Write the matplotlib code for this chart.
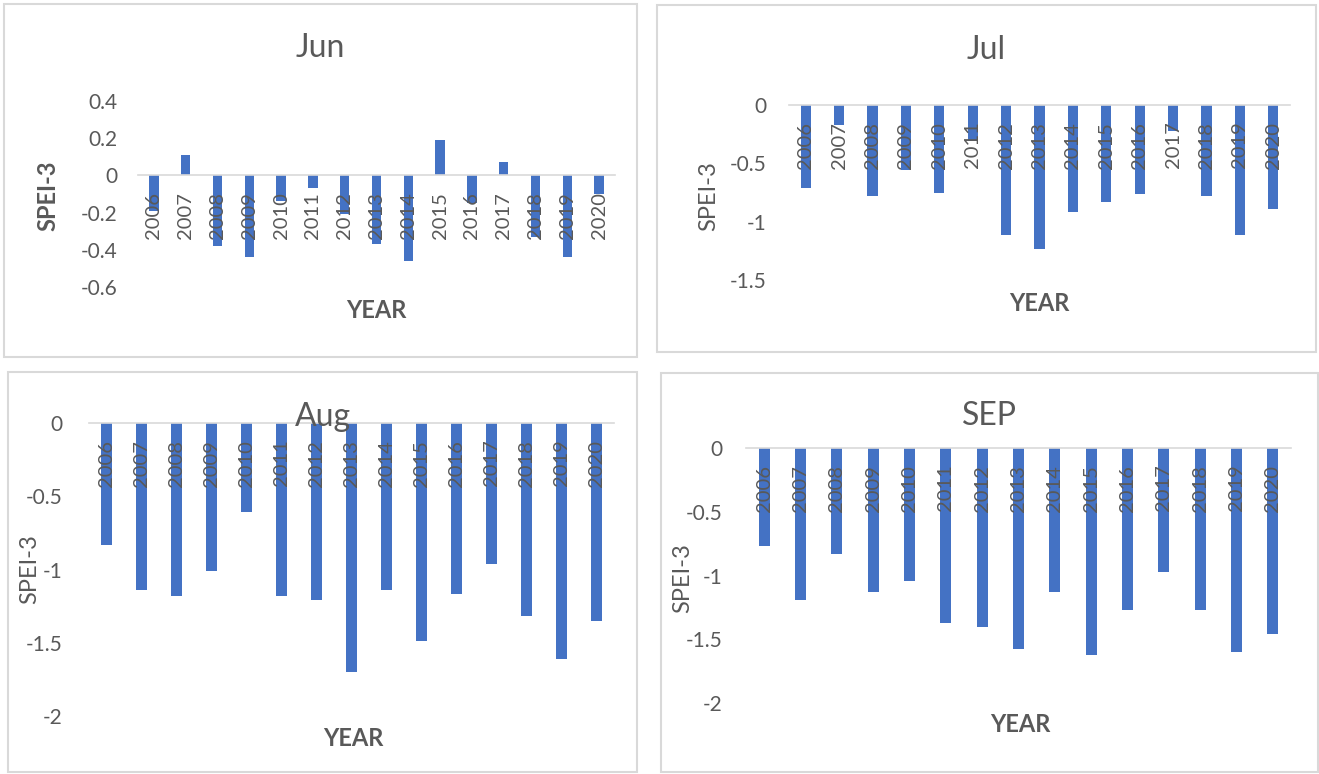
import numpy as np
import matplotlib
matplotlib.use("Agg")
import matplotlib.pyplot as plt
from matplotlib.patches import Rectangle

plt.rcParams['font.family'] = ['Lato', 'DejaVu Sans']

years = [str(y) for y in range(2006, 2021)]
jun = [-0.19, 0.11, -0.38, -0.44, -0.14, -0.07, -0.21, -0.37, -0.46, 0.19, -0.15, 0.07, -0.33, -0.44, -0.10]
jul = [-0.71, -0.17, -0.78, -0.56, -0.75, -0.31, -1.11, -1.23, -0.92, -0.83, -0.76, -0.22, -0.78, -1.11, -0.89]
aug = [-0.83, -1.14, -1.18, -1.01, -0.61, -1.18, -1.21, -1.70, -1.14, -1.49, -1.17, -0.96, -1.32, -1.61, -1.35]
sep = [-0.77, -1.19, -0.83, -1.13, -1.04, -1.37, -1.40, -1.58, -1.13, -1.62, -1.27, -0.97, -1.27, -1.60, -1.46]

W, H = 1319, 774
BLUE = '#4472C4'
GREY = '#595959'
LINE = '#d9d9d9'

fig = plt.figure(figsize=(W / 100, H / 100), dpi=100)


def fx(x):
    return x / W


def fy(y):
    return 1 - y / H


def panel(frame, plot, title, title_y, vals, yticks, ylab_xy, ylab_bold, xlab_xy, ypad):
    # frame around the whole chart
    x0, y0, x1, y1 = frame
    fig.add_artist(Rectangle((fx(x0), fy(y1)), fx(x1 - x0), (y1 - y0) / H,
                             transform=fig.transFigure, fill=False,
                             edgecolor=LINE, linewidth=1.5))
    l, t, r, b = plot
    ax = fig.add_axes([fx(l), fy(b), fx(r - l), (b - t) / H])
    x = np.arange(len(years))
    ax.bar(x, vals, width=0.3, color=BLUE, zorder=1)
    ax.set_xlim(-0.5, len(years) - 0.5)
    ax.set_ylim(yticks[0], yticks[-1])
    ax.set_yticks(yticks)
    ax.set_yticklabels([f'{v:g}' for v in yticks])
    ax.set_xticks(x)
    ax.set_xticklabels(years)
    for s in ['left', 'right', 'top']:
        ax.spines[s].set_visible(False)
    ax.spines['bottom'].set_position(('data', 0))
    ax.spines['bottom'].set_color(LINE)
    ax.spines['bottom'].set_linewidth(1.2)
    ax.tick_params(axis='x', length=0, pad=12, labelsize=14.5, labelcolor=GREY,
                   labelrotation=90)
    ax.tick_params(axis='y', length=0, pad=ypad, labelsize=15, labelcolor=GREY)
    ax.patch.set_alpha(0)

    fig.text(fx((x0 + x1) / 2), fy(title_y), title, ha='center', va='center',
             fontsize=23, color=GREY)
    fig.text(fx(ylab_xy[0]), fy(ylab_xy[1]), 'SPEI-3', rotation=90,
             ha='center', va='center', fontsize=17, color=GREY,
             fontweight='bold' if ylab_bold else 'normal')
    fig.text(fx(xlab_xy[0]), fy(xlab_xy[1]), 'YEAR', ha='center', va='center',
             fontsize=17, color=GREY, fontweight='bold')
    return ax


panel((4, 4, 637, 357), (138, 101, 615, 287), 'Jun', 48, jun,
      [-0.6, -0.4, -0.2, 0, 0.2, 0.4], (48, 196), True, (376, 311), 15)
panel((657, 5, 1316, 352), (789, 105, 1290, 280), 'Jul', 50, jul,
      [-1.5, -1, -0.5, 0], (709, 196), False, (1039, 304), 16.5)
panel((8, 372, 637, 772), (89, 423, 614, 716), 'Aug', 417, aug,
      [-2, -1.5, -1, -0.5, 0], (30, 569), False, (353, 739), 19)
panel((661, 373, 1318, 772), (746, 448, 1291, 703), 'SEP', 416, sep,
      [-2, -1.5, -1, -0.5, 0], (683, 578), False, (1020, 725), 17)

fig.savefig('out.png', dpi=100)
